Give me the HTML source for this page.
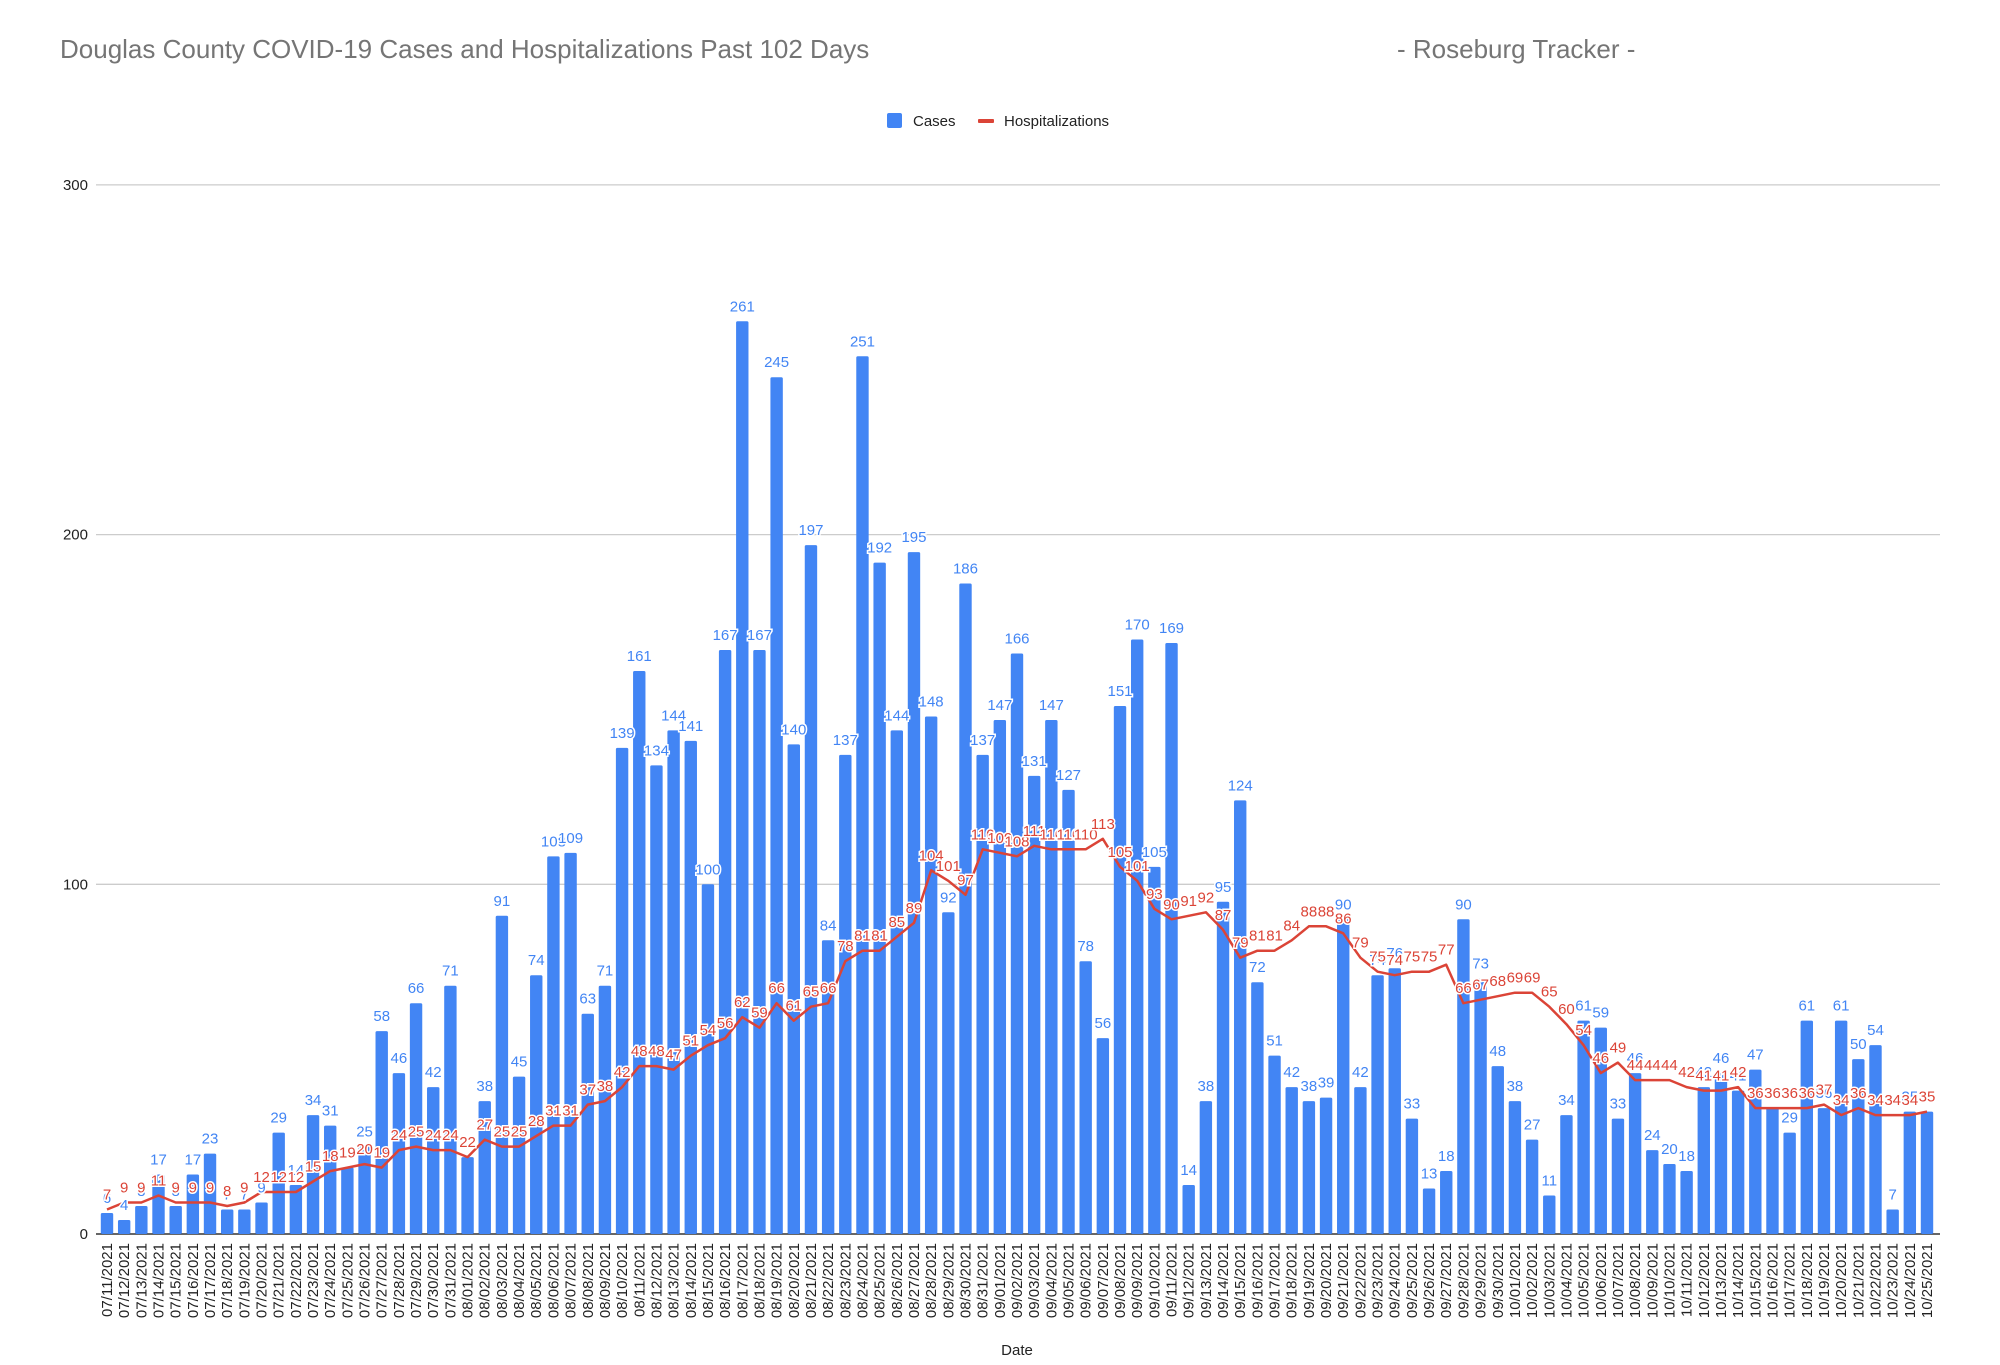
<!DOCTYPE html>
<html><head><meta charset="utf-8"><style>
html,body{margin:0;padding:0;background:#fff;}
svg{display:block;font-family:"Liberation Sans",Arial,sans-serif;}
</style></head><body>
<svg id="c" width="2000" height="1365" xmlns="http://www.w3.org/2000/svg">
<text x="60" y="58" font-size="26" fill="#757575">Douglas County COVID-19 Cases and Hospitalizations Past 102 Days</text>
<text x="1397" y="58" font-size="26" fill="#757575">- Roseburg Tracker -</text>
<rect x="887" y="113" width="15" height="15" rx="2" fill="#4285f4"/>
<text x="913" y="126" font-size="15" fill="#222">Cases</text>
<rect x="978" y="119" width="16" height="4" rx="1" fill="#db4437"/>
<text x="1004" y="126" font-size="15" fill="#222">Hospitalizations</text>
<text x="1017" y="1355" font-size="15" fill="#222" text-anchor="middle">Date</text>
<g id="g"></g>
</svg>
<script>
var cases=[6,4,8,17,8,17,23,7,7,9,29,14,34,31,19,25,58,46,66,42,71,
22,38,91,45,74,108,109,63,71,139,161,134,144,141,100,167,261,167,245,140,197,84,137,251,192,144,195,148,92,186,137,
147,166,131,147,127,78,56,151,170,105,169,14,38,95,124,72,51,42,38,39,90,42,74,76,33,13,18,90,73,48,
38,27,11,34,61,59,33,46,24,20,18,42,46,41,47,36,29,61,36,61,50,54,7,35,35];
var hosp=[7,9,9,11,9,9,9,8,9,12,12,12,15,18,19,20,19,24,25,24,24,
22,27,25,25,28,31,31,37,38,42,48,48,47,51,54,56,62,59,66,61,65,66,78,81,81,85,89,104,101,97,110,
109,108,111,110,110,110,113,105,101,93,90,91,92,87,79,81,81,84,88,88,86,79,75,74,75,75,77,66,67,68,
69,69,65,60,54,46,49,44,44,44,42,41,41,42,36,36,36,36,37,34,36,34,34,34,35];
var y0=1234,k=3.497,x0=107,dx=(1927-107)/106;
function Y(v){return y0-v*k;}
var s='';
[0,100,200,300].forEach(function(v){
 s+='<line x1="96" x2="1940" y1="'+Y(v)+'" y2="'+Y(v)+'" stroke="'+(v?'#ccc':'#333')+'" stroke-width="'+(v?1.3:1.6)+'"/>';
 s+='<text x="88" y="'+(Y(v)+5)+'" font-size="15" fill="#222" text-anchor="end">'+v+'</text>';
});
var d=new Date(2021,6,11);
for(var i=0;i<cases.length;i++){
 var x=x0+i*dx;
 s+='<rect x="'+(x-6.2)+'" y="'+Y(cases[i])+'" width="12.4" height="'+(cases[i]*k)+'" rx="1.5" fill="#4285f4"/>';
 var dt=new Date(d.getTime()+i*86400000);
 var lab=('0'+(dt.getMonth()+1)).slice(-2)+'/'+('0'+dt.getDate()).slice(-2)+'/2021';
 s+='<text transform="translate('+(x+5)+',1243) rotate(-90)" font-size="15" fill="#222" text-anchor="end">'+lab+'</text>';
}
var p='';
for(var i=0;i<hosp.length;i++){p+=(i?'L':'M')+(x0+i*dx).toFixed(1)+','+Y(hosp[i]).toFixed(1);}
s+='<path d="'+p+'" fill="none" stroke="#db4437" stroke-width="2.5" stroke-linejoin="round"/>';
for(var i=0;i<cases.length;i++){
 var x=x0+i*dx;
 s+='<text x="'+x+'" y="'+(Y(cases[i])-10)+'" font-size="15" fill="#4285f4" text-anchor="middle" stroke="#fff" stroke-width="3" paint-order="stroke">'+cases[i]+'</text>';
}
for(var i=0;i<hosp.length;i++){
 var x=x0+i*dx;
 s+='<text x="'+x+'" y="'+(Y(hosp[i])-10)+'" font-size="15" fill="#db4437" text-anchor="middle" stroke="#fff" stroke-width="3" paint-order="stroke">'+hosp[i]+'</text>';
}
document.getElementById('g').innerHTML=s;
</script>
</body></html>
